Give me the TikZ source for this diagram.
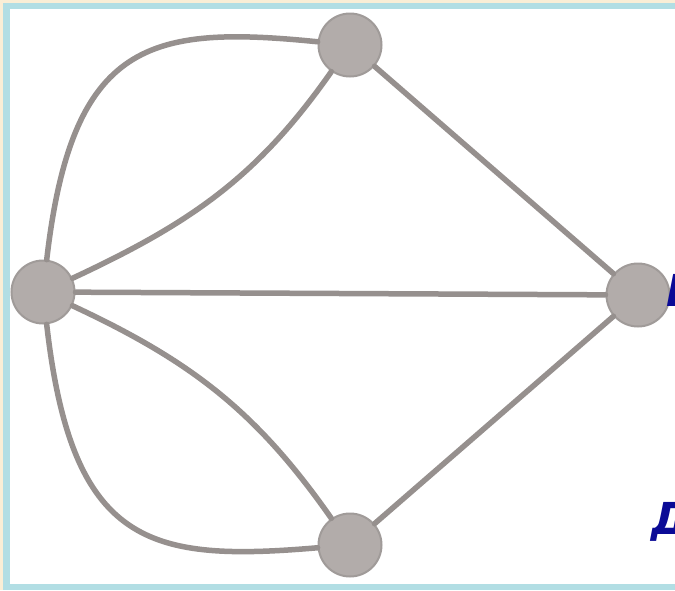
\documentclass[tikz,border=0pt]{standalone}
\usepackage{fontspec}
\setsansfont{DejaVu Sans}
\definecolor{frameblue}{RGB}{178,222,228}
\definecolor{framebeige}{RGB}{250,238,214}
\definecolor{vertgray}{RGB}{178,172,170}
\definecolor{edgegray}{RGB}{150,144,142}
\definecolor{letterblue}{RGB}{10,10,150}
\tikzset{
  vert/.style={circle, fill=vertgray, draw=edgegray!90, line width=2pt, minimum size=63pt, inner sep=0pt},
  edge/.style={edgegray, line width=5.5pt, line cap=round},
  letter/.style={letterblue, font=\sffamily\bfseries\itshape\fontsize{44}{44}\selectfont, inner sep=0pt}
}
\begin{document}
\begin{tikzpicture}[x=1pt, y=-1pt]
    % Rahmen
    \useasboundingbox (0,0) rectangle (675,590);
    \fill[framebeige] (0,0) rectangle (675,590);
    \fill[frameblue] (3,3) rectangle (690,590);
    \fill[white] (10,9) rectangle (690,584);
    % Knoten
    \node[vert] (A) at (43,292) {};
    \node[vert] (B) at (350,45) {};
    \node[vert] (C) at (638,295) {};
    \node[vert] (D) at (350,545) {};
    % Kanten
    \draw[edge] (A) .. controls (72,40) and (150,25) .. (B);
    \draw[edge] (A) to[out=25, in=235] (B);
    \draw[edge] (A) -- (C);
    \draw[edge] (B) -- (C);
    \draw[edge] (D) -- (C);
    \draw[edge] (A) to[out=-25, in=125] (D);
    \draw[edge] (A) .. controls (72,547) and (150,562) .. (D);
    % Buchstaben am Rand
    \node[letter, anchor=west] (g) at (666,290) {Г};
    \node[letter, anchor=west] (d) at (651,522) {Д};
\end{tikzpicture}
\end{document}
